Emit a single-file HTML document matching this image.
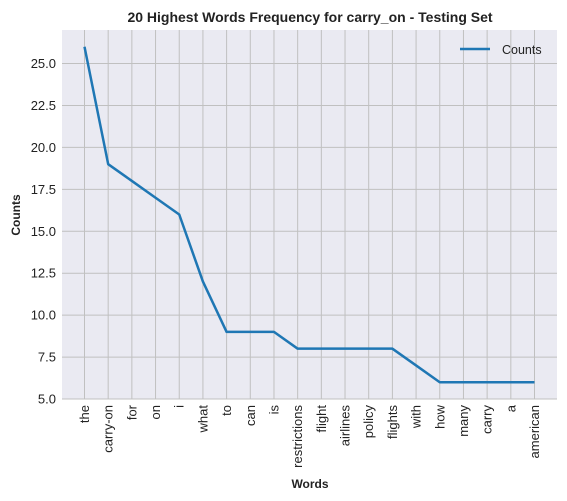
<!DOCTYPE html>
<html><head><meta charset="utf-8"><style>
html,body{margin:0;padding:0;background:#fff;}
svg{display:block;font-family:"Liberation Sans",Arial,sans-serif;}
</style></head><body>
<svg id="chart" width="567" height="501">
<rect x="62" y="30" width="495" height="369" fill="#EAEAF2"/>
<g id="grid"></g>
<g id="ticks"></g>
<polyline id="line" fill="none" stroke="#1f77b4" stroke-width="2.5" stroke-linejoin="round"/>
<text x="310" y="22" text-anchor="middle" font-size="14" font-weight="bold" fill="#222">20 Highest Words Frequency for carry_on - Testing Set</text>
<text x="310" y="488" text-anchor="middle" font-size="12" font-weight="bold" fill="#222">Words</text>
<text transform="translate(20,215) rotate(-90)" text-anchor="middle" font-size="12" font-weight="bold" fill="#222">Counts</text>
<g>
<line x1="460" y1="49" x2="490" y2="49" stroke="#1f77b4" stroke-width="2.5"/>
<text x="502" y="54" font-size="12.5" fill="#222">Counts</text>
</g>
</svg>
<script>
const categories=["the","carry-on","for","on","i","what","to","can","is","restrictions","flight","airlines","policy","flights","with","how","many","carry","a","american"];
const counts=[26,19,18,17,16,12,9,9,9,8,8,8,8,8,7,6,6,6,6,6];
const yTicks=[5.0,7.5,10.0,12.5,15.0,17.5,20.0,22.5,25.0];
const NS="http://www.w3.org/2000/svg";
const L=62,R=557,T=30,B=399,yMin=5,yMax=27;
const n=categories.length;
const pad=(n-1)*0.05;
function xs(i){return L+(i+pad)/(n-1+2*pad)*(R-L);}
function ys(v){return B-(v-yMin)/(yMax-yMin)*(B-T);}
const grid=document.getElementById('grid'),ticks=document.getElementById('ticks');
function mk(tag,attrs,parent){const e=document.createElementNS(NS,tag);for(const k in attrs)e.setAttribute(k,attrs[k]);parent.appendChild(e);return e;}
yTicks.forEach(v=>{
 const y=ys(v);
 const g=mk('line',{x1:L,x2:R,y1:y,y2:y,stroke:'#c0c0c0','stroke-width':1},grid);
 
 
 const t=mk('text',{x:L-6,y:y+4.5,'text-anchor':'end','font-size':13,fill:'#222'},ticks);
 t.textContent=v.toFixed(1);
 
 
});
categories.forEach((c,i)=>{
 const x=xs(i);
 const g=mk('line',{x1:x,x2:x,y1:T,y2:B,stroke:'#c0c0c0','stroke-width':1},grid);
 
 
 const t=mk('text',{transform:`translate(${x+4.5},${B+6}) rotate(-90)`,'text-anchor':'end','font-size':13,fill:'#222'},ticks);
 t.textContent=c;
 
 
});
document.getElementById('line').setAttribute('points',counts.map((v,i)=>xs(i)+','+ys(v)).join(' '));
</script>
</body></html>
